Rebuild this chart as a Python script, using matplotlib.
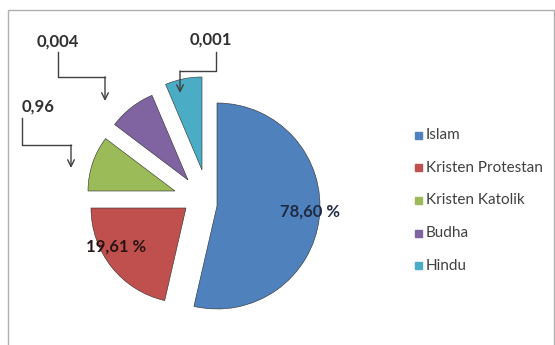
import numpy as np
import matplotlib.pyplot as plt
from matplotlib.patches import Rectangle

# slice sizes as drawn (share of the circle)
agama = ['Islam', 'Kristen Protestan', 'Kristen Katolik', 'Budha', 'Hindu']
ukuran = [53.6, 21.4, 10.3, 8.3, 6.4]
warna = ['#4F81BD', '#C0504D', '#9BBB59', '#8064A2', '#4BACC6']

# printed labels
label_dalam = ['78,60 %', '19,61 %']
label_luar = ['0,96', '0,004', '0,001']

plt.rcParams['font.family'] = ['Lato', 'DejaVu Sans']

fig = plt.figure(figsize=(5.55, 3.45), dpi=100)

ax = fig.add_axes([70 / 555, 1 - 330 / 345, 260 / 555, 260 / 345])
wedges, _ = ax.pie(ukuran, colors=warna, startangle=90,
                   counterclock=False, radius=1.0,
                   wedgeprops=dict(linewidth=0.4, edgecolor='#2a2a2a'))
# exploded look: each slice shifted / sized a bit differently
geser = [(0.17, -0.06), (-0.14, -0.08), (-0.25, 0.09), (-0.12, 0.20), (0.02, 0.30)]
jari = [1.03, 0.95, 0.87, 0.92, 0.93]
for w, g, r in zip(wedges, geser, jari):
    w.set_center(g)
    w.set_radius(r)
ax.set_xlim(-1.3, 1.3)
ax.set_ylim(-1.3, 1.3)
ax.set_aspect('equal')

# overlay in pixel coords for frame, labels, arrows
ov = fig.add_axes([0, 0, 1, 1])
ov.set_zorder(5)
ov.patch.set_alpha(0)
ov.set_xlim(0, 555)
ov.set_ylim(345, 0)
ov.axis('off')
ov.add_patch(Rectangle((8, 10), 546, 340, fill=False, ec='#b0b0b0', lw=1))

ov.text(310, 212, label_dalam[0], fontsize=12, fontweight='bold',
        color='#1f2a44', ha='center', va='center')
ov.text(116, 247, label_dalam[1], fontsize=12, fontweight='bold',
        color='#2a1515', ha='center', va='center')

# callout labels
ov.text(58, 42, label_luar[1], fontsize=12, fontweight='bold', color='#303030',
        ha='center', va='center')
ov.text(211, 40, label_luar[2], fontsize=12, fontweight='bold', color='#303030',
        ha='center', va='center')
ov.text(38, 107, label_luar[0], fontsize=12, fontweight='bold', color='#303030',
        ha='center', va='center')

lines = [
    ([58, 58, 105, 105], [52, 77, 77, 101]),
    ([216, 216, 180, 180], [52, 71, 71, 93]),
    ([22, 22, 71, 71], [118, 145, 145, 168]),
]
for xs, ys in lines:
    ov.plot(xs[:-1], ys[:-1], color='#404040', lw=1)
    ov.annotate('', xy=(xs[-1], ys[-1]), xytext=(xs[-2], ys[-2]),
                arrowprops=dict(arrowstyle='->', color='#404040', lw=1,
                                shrinkA=0, shrinkB=0, mutation_scale=12))

# legend
for i, (nama, c) in enumerate(zip(agama, warna)):
    y = 135 + i * 32.7
    ov.add_patch(Rectangle((415, y - 3.5), 7, 7, color=c))
    ov.text(426, y, nama, fontsize=11, color='#404040', va='center', ha='left')

fig.savefig('out.png', dpi=100)
